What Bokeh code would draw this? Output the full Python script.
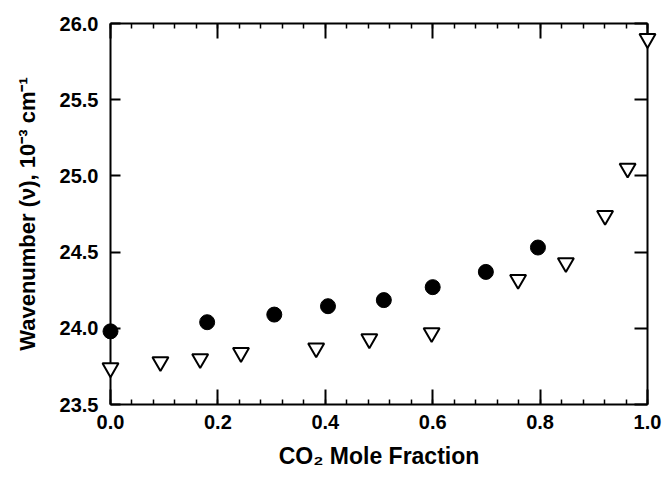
from bokeh.plotting import figure
from bokeh.models import Range1d, LinearAxis, FixedTicker
from bokeh.embed import file_html
from bokeh.resources import INLINE

# Data
circle_x = [0.0, 0.18, 0.305, 0.405, 0.509, 0.60, 0.699, 0.796]
circle_y = [23.98, 24.04, 24.09, 24.145, 24.185, 24.27, 24.37, 24.53]
tri_x = [0.0, 0.093, 0.167, 0.243, 0.383, 0.482, 0.598, 0.759, 0.848, 0.921, 0.963, 1.0]
tri_y = [23.74, 23.78, 23.80, 23.84, 23.87, 23.93, 23.97, 24.32, 24.43, 24.74, 25.05, 25.90]

x_ticks = [0.0, 0.2, 0.4, 0.6, 0.8, 1.0]
x_minor = [round(i * 0.04, 2) for i in range(26)]
y_ticks = [23.5, 24.0, 24.5, 25.0, 25.5, 26.0]
x_label = "CO\u2082 Mole Fraction"
y_label = "Wavenumber (\u03bd), 10\u207b\u00b3 cm\u207b\u00b9"

FONT = "Liberation Sans"

p = figure(width=663, height=482, output_backend="svg", toolbar_location=None,
           x_range=Range1d(0, 1), y_range=Range1d(23.5, 26.0),
           x_axis_location=None, y_axis_location=None,
           min_border_left=110, min_border_right=16, min_border_top=23, min_border_bottom=78)
p.outline_line_color = None
p.xgrid.visible = False
p.ygrid.visible = False
p.background_fill_color = "white"
p.border_fill_color = "white"


def style(ax, labels=True, major_in=15, minor_in=5):
    ax.axis_line_color = "black"
    ax.axis_line_width = 2
    ax.major_tick_line_color = "black"
    ax.major_tick_line_width = 2
    ax.minor_tick_line_color = "black"
    ax.minor_tick_line_width = 1.5
    ax.major_tick_in = major_in
    ax.major_tick_out = 0
    ax.minor_tick_in = minor_in
    ax.minor_tick_out = 0
    ax.major_label_text_font = FONT
    ax.major_label_text_font_style = "bold"
    ax.major_label_text_font_size = "20px"
    ax.major_label_text_color = "black"
    if not labels:
        ax.major_label_text_alpha = 0
        ax.major_label_text_font_size = "1px"


xt = FixedTicker(ticks=x_ticks, minor_ticks=x_minor)
yt = FixedTicker(ticks=y_ticks, minor_ticks=[])

bottom = LinearAxis(ticker=xt, axis_label=x_label)
style(bottom)
bottom.major_label_overrides = {t: "%.1f" % t for t in x_ticks}
bottom.major_label_standoff = 10
bottom.axis_label_text_font = FONT
bottom.axis_label_text_font_style = "bold"
bottom.axis_label_text_font_size = "23px"
bottom.axis_label_text_color = "black"
bottom.axis_label_standoff = 11
p.add_layout(bottom, "below")

top = LinearAxis(ticker=xt)
style(top, labels=False)
p.add_layout(top, "above")

left = LinearAxis(ticker=yt, axis_label=y_label)
style(left, major_in=10, minor_in=0)
left.major_label_overrides = {t: "%.1f" % t for t in y_ticks}
left.major_label_standoff = 12
left.axis_label_text_font = FONT
left.axis_label_text_font_style = "bold"
left.axis_label_text_font_size = "22px"
left.axis_label_text_color = "black"
left.axis_label_standoff = 17
p.add_layout(left, "left")

right = LinearAxis(ticker=yt)
style(right, labels=False, major_in=13, minor_in=0)
p.add_layout(right, "right")

p.scatter(circle_x, circle_y, marker="circle", size=15,
          fill_color="black", line_color="black", level="overlay")
p.scatter(tri_x, tri_y, marker="inverted_triangle", size=16,
          fill_color="white", line_color="black", line_width=2, level="overlay")

open("out.html", "w").write(file_html(p, INLINE))
